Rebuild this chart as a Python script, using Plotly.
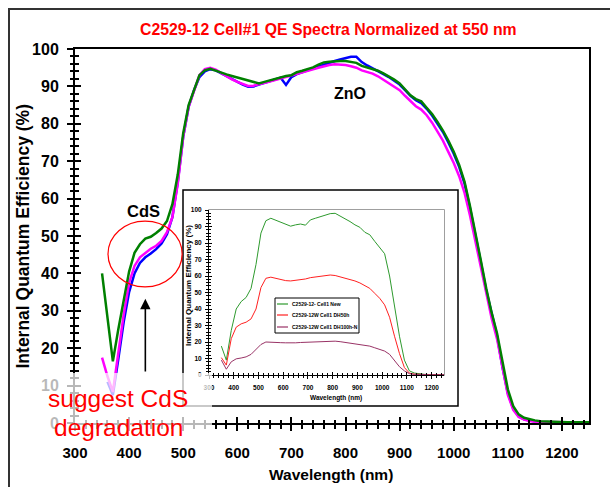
import plotly.graph_objects as go

W, H = 610, 487


def px(x):
    return x / W


def py(y):
    return 1 - y / H


FONT = "Liberation Sans, Arial, sans-serif"

# ---------------- main chart data (QE %, normalized at 550 nm) ----------------
wavelength = list(range(350, 1251, 10))

qe_green = [
    40.0, 28.0, 16.5, 25.0, 33.0, 40.5, 45.5, 47.8, 49.3, 49.8,
    50.8, 52.0, 54.0, 58.5, 66.5, 77.5, 85.0, 89.3, 93.0, 94.3,
    94.7, 94.2, 93.6, 93.2, 92.8, 92.4, 92.0, 91.6, 91.0, 90.8,
    91.2, 91.6, 92.1, 92.6, 92.8, 93.0, 93.8, 94.2, 94.6, 95.1,
    95.8, 96.4, 96.6, 96.8, 96.8, 96.8, 96.6, 96.3, 95.5, 95.1,
    94.8, 94.2, 93.5, 92.7, 91.8, 90.8, 89.3, 87.6, 86.6, 86.0,
    84.3, 82.6, 80.5, 78.2, 75.5, 72.5, 69.0, 64.5, 58.0, 51.0,
    43.5, 36.0, 29.5, 24.0, 16.0, 9.0, 4.5, 2.3, 1.4, 1.0,
    0.7, 0.5, 0.4, 0.3, 0.3, 0.25, 0.2, 0.2, 0.2, 0.2,
    0.2,
]

qe_blue = [
    None, 11.0, 7.5, 17.0, 27.0, 35.0, 40.0, 42.8, 44.3, 45.3,
    46.5, 48.0, 50.5, 55.0, 64.5, 76.5, 84.5, 89.0, 92.5, 94.0,
    94.6, 94.3, 93.5, 92.8, 92.0, 91.3, 90.5, 89.9, 90.0, 90.5,
    91.0, 91.5, 92.0, 92.3, 90.4, 92.5, 93.3, 93.8, 94.3, 94.8,
    95.5, 96.0, 96.4, 96.8, 97.2, 97.6, 97.9, 97.9, 96.5, 95.6,
    94.9, 94.1, 93.3, 92.5, 91.5, 90.5, 89.0, 87.5, 86.3, 85.5,
    84.0, 82.2, 80.0, 77.8, 75.0, 72.0, 68.5, 64.0, 57.5, 50.5,
    43.0, 35.5, 29.0, 23.3, 15.0, 8.0, 3.8, 1.8, 1.0, 0.6,
    0.4, 0.3, 0.25, 0.2, 0.2, 0.2, 0.2, 0.2, 0.2, 0.2,
    0.2,
]

qe_magenta = [
    17.5, 12.5, 8.3, 19.0, 29.0, 37.5, 42.0, 44.3, 45.5, 46.6,
    47.4, 48.7, 51.0, 55.0, 64.0, 76.5, 84.5, 89.0, 93.0, 94.6,
    95.0, 94.5, 93.6, 92.8, 91.9, 91.2, 90.6, 90.1, 90.2, 90.5,
    90.9, 91.3, 91.7, 92.1, 92.5, 92.8, 93.4, 93.8, 94.2, 94.6,
    95.0, 95.4, 95.7, 95.9, 95.9, 95.7, 95.4, 95.0, 94.3, 93.9,
    93.4, 92.7, 91.8, 90.8, 90.0, 89.0, 87.5, 86.0, 84.7, 83.8,
    82.3, 80.3, 78.0, 75.5, 72.5, 69.5, 66.0, 61.5, 55.5, 48.5,
    41.5, 34.5, 28.0, 22.5, 14.5, 7.5, 3.5, 1.6, 0.9, 0.5,
    0.35, 0.3, 0.25, 0.2, 0.2, 0.2, 0.2, 0.2, 0.2, 0.2,
    0.2,
]

# ---------------- inset chart data (absolute QE %) ----------------
inset_wl = list(range(350, 1251, 20))

inset_names = ["C2529-12- Cell1 New", "C2529-12W Cell1 DH50h", "C2529-12W Cell1 DH100h-N"]

inset_new = [
    17.5, 9.0, 27.0, 40.0, 44.5, 47.0, 52.5, 67.0, 86.0, 93.5,
    95.0, 93.8, 92.5, 91.0, 90.2, 91.0, 91.5, 90.8, 94.0, 95.0,
    96.0, 97.0, 97.8, 98.0, 96.5, 95.0, 93.0, 91.0, 89.5, 86.5,
    85.0, 81.0, 77.0, 73.5, 60.0, 42.0, 23.5, 9.0, 2.5, 1.2,
    0.6, 0.4, 0.3, 0.2, 0.2, 0.2,
]
inset_dh50 = [
    10.5, 6.0, 22.0, 29.0, 31.0, 32.0, 34.0, 40.0, 53.0, 58.6,
    59.3, 58.5, 57.8, 57.2, 57.0, 57.3, 57.8, 58.2, 59.0, 59.5,
    60.0, 60.5, 60.6, 60.3, 59.5, 59.0, 58.0, 57.0, 55.8, 54.0,
    52.5, 49.5, 46.5, 42.5, 35.0, 23.5, 13.0, 4.5, 1.2, 0.5,
    0.3, 0.2, 0.2, 0.2, 0.2, 0.2,
]
inset_dh100 = [
    9.0, 3.5, 8.0, 9.8, 10.3, 11.0, 12.5, 15.5, 18.5, 20.0,
    20.0, 19.8, 19.6, 19.5, 19.4, 19.5, 19.7, 19.8, 20.0, 20.2,
    20.4, 20.6, 20.7, 20.5, 20.2, 19.8, 19.3, 18.8, 18.4, 18.0,
    17.5, 16.5, 15.5, 14.5, 12.5, 8.5, 5.0, 2.5, 0.8, 0.4,
    0.2, 0.2, 0.2, 0.2, 0.2, 0.2,
]

main_colors = ["#0000ff", "#ff00ff", "#008000"]
inset_colors = ["#2e9a2e", "#ff2020", "#993366"]

fig = go.Figure()

for name, ys, col in zip(["Cell#1 (blue)", "Cell#1 (magenta)", "Cell#1 (green)"],
                         [qe_blue, qe_magenta, qe_green], main_colors):
    fig.add_trace(go.Scatter(x=wavelength, y=ys, mode="lines", name=name,
                             line=dict(color=col, width=2.5), xaxis="x", yaxis="y",
                             showlegend=False, hoverinfo="skip"))

for name, ys, col in zip(inset_names, [inset_new, inset_dh50, inset_dh100], inset_colors):
    fig.add_trace(go.Scatter(x=inset_wl, y=ys, mode="lines", name=name,
                             line=dict(color=col, width=1), xaxis="x2", yaxis="y2",
                             showlegend=False, hoverinfo="skip"))

# empty traces so the tick-overlay axes are drawn
for xa, ya in [("x3", "y"), ("x", "y3"), ("x4", "y2"), ("x2", "y4")]:
    fig.add_trace(go.Scatter(x=[], y=[], xaxis=xa, yaxis=ya, showlegend=False))


def axis(domain, rng, dtick, mdtick, ticks, ln, mln, tw, font=None, anchor=None,
         overlaying=None, line=False, lw=2, mirror=False, standoff=None):
    d = dict(range=rng, dtick=dtick, tick0=0, ticks=ticks, ticklen=ln, tickwidth=tw,
             tickcolor="black", automargin=False,
             minor=dict(dtick=mdtick, ticks=ticks, ticklen=mln, tickwidth=tw,
                        tickcolor="black", showgrid=False),
             showgrid=False, zeroline=False, showline=line, linecolor="black",
             linewidth=lw, mirror=mirror, fixedrange=True)
    if domain is not None:
        d["domain"] = domain
    if anchor:
        d["anchor"] = anchor
    if overlaying:
        d["overlaying"] = overlaying
        d["showticklabels"] = False
    if font:
        d["tickfont"] = font
    if standoff is not None:
        d["ticklabelstandoff"] = standoff
    return d


xdom = [px(75), px(589)]
ydom = [py(423), py(49)]
ixdom = [px(209), px(444)]
iydom = [py(375), py(210)]

bold = dict(family=FONT, color="black", weight="bold")

layout = dict(
    template="none",
    width=W, height=H, autosize=False,
    margin=dict(l=0, r=0, t=0, b=0, pad=0),
    paper_bgcolor="white", plot_bgcolor="white",
    showlegend=False,
    xaxis=axis(xdom, [300, 1250], 100, 20, "outside", 6, 3.5, 1.5,
               font=dict(bold, size=15), anchor="y", line=True, lw=2, mirror=True,
               standoff=9),
    yaxis=axis(ydom, [0, 100], 10, 2, "outside", 6, 3.5, 1.5,
               font=dict(bold, size=16), anchor="x", line=True, lw=2, mirror=True,
               standoff=5),
    xaxis3=axis(None, [300, 1250], 100, 20, "inside", 6, 3.5, 1.5, anchor="y",
                overlaying="x"),
    yaxis3=axis(None, [0, 100], 10, 2, "inside", 6, 3.5, 1.5, anchor="x",
                overlaying="y"),
    xaxis2=axis(ixdom, [300, 1250], 100, 20, "outside", 3, 2, 1,
                font=dict(bold, size=6.5), anchor="y2", line=True, lw=1, standoff=3),
    yaxis2=axis(iydom, [0, 100], 10, 2, "outside", 3, 2, 1,
                font=dict(bold, size=6.5), anchor="x2", line=True, lw=1, standoff=2),
    xaxis4=axis(None, [300, 1250], 100, 20, "inside", 3, 2, 1, anchor="y2",
                overlaying="x2"),
    yaxis4=axis(None, [0, 100], 10, 2, "inside", 3, 2, 1, anchor="x2",
                overlaying="y2"),
)
fig.update_layout(**layout)

shapes = [
    # outer frame of the slide graphic
    dict(type="rect", xref="paper", yref="paper", x0=px(9), y0=py(600), x1=px(700), y1=py(9),
         line=dict(color="#333333", width=2), fillcolor="rgba(0,0,0,0)", layer="below"),
    # inset box
    dict(type="rect", xref="paper", yref="paper", x0=px(183), y0=py(406), x1=px(458), y1=py(190),
         line=dict(color="black", width=1.5), fillcolor="white", layer="below"),
    # inset plot frame
    dict(type="rect", xref="paper", yref="paper", x0=ixdom[0], y0=iydom[0], x1=ixdom[1], y1=iydom[1],
         line=dict(color="#808080", width=1.5), fillcolor="white", layer="below"),
    # red ellipse around CdS region
    dict(type="circle", xref="x", yref="y", x0=361, x1=498, y0=36.4, y1=54.0,
         line=dict(color="#ff0000", width=1.2), layer="above"),
    # inset legend box
    dict(type="rect", xref="paper", yref="paper", x0=px(275), y0=py(333), x1=px(359), y1=py(298),
         line=dict(color="black", width=1), fillcolor="white", layer="above"),
]
legend_y = [304, 315, 327]
for col, yy in zip(inset_colors, legend_y):
    shapes.append(dict(type="line", xref="paper", yref="paper", x0=px(277), x1=px(288),
                       y0=py(yy), y1=py(yy), line=dict(color=col, width=1.2), layer="above"))
# translucent white patch under the red note
shapes.append(dict(type="rect", xref="paper", yref="paper", x0=px(38), y0=py(438), x1=px(212), y1=py(373),
                   line=dict(width=0), fillcolor="rgba(255,255,255,0.72)", layer="above"))

annotations = [
    dict(text="C2529-12 Cell#1 QE Spectra Normalized at 550 nm", x=px(328), y=py(29),
         font=dict(family=FONT, size=15.8, color="#ff0000", weight="bold")),
    dict(text="Internal Quantum Efficiency (%)", x=px(22.5), y=py(237), textangle=-90,
         font=dict(bold, size=17.5)),
    dict(text="Wavelength (nm)", x=px(331), y=py(474), font=dict(bold, size=15.5)),
    dict(text="ZnO", x=px(349.5), y=py(94), font=dict(bold, size=16)),
    dict(text="CdS", x=px(143.5), y=py(211), font=dict(bold, size=16.5)),
    dict(text="Internal Quantum Efficiency (%)", x=px(188), y=py(286), textangle=-90,
         font=dict(bold, size=8)),
    dict(text="Wavelength (nm)", x=px(336), y=py(398), font=dict(bold, size=6.5)),
]
for name, yy in zip(inset_names, legend_y):
    annotations.append(dict(text=name, x=px(290), y=py(yy), xanchor="left",
                            font=dict(bold, size=5)))
annotations += [
    dict(text="suggest CdS", x=px(117.5), y=py(398),
         font=dict(family=FONT, size=24.5, color="#ff0000")),
    dict(text="degradation", x=px(118), y=py(427),
         font=dict(family=FONT, size=24.5, color="#ff0000")),
]
for a in annotations:
    a.setdefault("xref", "paper")
    a.setdefault("yref", "paper")
    a.setdefault("showarrow", False)
    a.setdefault("xanchor", "center")
    a.setdefault("yanchor", "middle")

annotations.append(dict(text="", x=430, y=33.2, ax=430, ay=13.4, xref="x", yref="y",
                        axref="x", ayref="y", showarrow=True, arrowhead=2, arrowsize=1.3,
                        arrowwidth=1.6, arrowcolor="black", standoff=0))

fig.update_layout(shapes=shapes, annotations=annotations)

fig.write_html("out.html", config={"displayModeBar": False},
               post_script="document.body.style.margin='0';document.body.style.padding='0';")
